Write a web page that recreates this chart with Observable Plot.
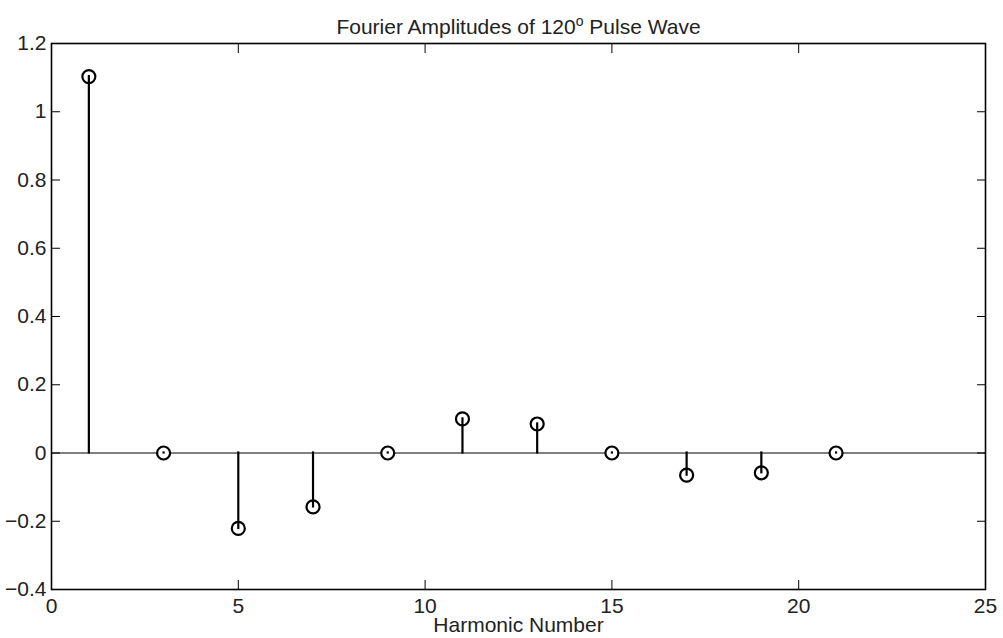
<!DOCTYPE html>
<html><head><meta charset="utf-8">
<script src="https://cdn.jsdelivr.net/npm/d3@7"></script>
<script src="https://cdn.jsdelivr.net/npm/@observablehq/plot@0.6"></script>
<style>body{margin:0;background:#fff}</style></head>
<body><div id="chart"></div>
<script>
const harmonics = [1, 3, 5, 7, 9, 11, 13, 15, 17, 19, 21];
const amplitudes = [1.103, 0, -0.221, -0.158, 0, 0.100, 0.085, 0, -0.065, -0.058, 0];
const xTicks = [0, 5, 10, 15, 20, 25];
const yTicks = [-0.4, -0.2, 0, 0.2, 0.4, 0.6, 0.8, 1, 1.2];
const titleParts = ["Fourier Amplitudes of 120", "o", " Pulse Wave"];
const xLabel = "Harmonic Number";

const data = harmonics.map((n, i) => ({n, a: amplitudes[i]}));
const fmt = d => (d < 0 ? "\u2212" : "") + String(Math.round(Math.abs(d) * 10) / 10);

const chart = Plot.plot({
  width: 1003,
  height: 638,
  marginLeft: 51,
  marginRight: 18,
  marginTop: 43,
  marginBottom: 49,
  style: {fontFamily: "'Liberation Sans', Arial, sans-serif", fontSize: "21px", background: "#fff", color: "#000"},
  x: {domain: [0, 25]},
  y: {domain: [-0.4, 1.2]},
  marks: [
    Plot.ruleY([0], {stroke: "#000", strokeWidth: 1}),
    Plot.dot(data, {x: "n", y: "a", r: 6.5, fill: "#fff", stroke: "none"}),
    Plot.ruleX(data, {x: "n", y1: 0, y2: "a", stroke: "#000", strokeWidth: 2.2, strokeLinecap: "square"}),
    Plot.dot(data, {x: "n", y: "a", r: 6.5, stroke: "#000", strokeWidth: 2.2, fill: "none"}),
    Plot.axisX({ticks: xTicks, tickSize: -9, tickPadding: 18, tickFormat: fmt, label: null, fontSize: 21, fill: "#222"}),
    Plot.axisX({anchor: "top", ticks: xTicks, tickSize: -9, tickFormat: () => "", label: null}),
    Plot.axisY({ticks: yTicks, tickSize: -9, tickPadding: 14, tickFormat: fmt, label: null, fontSize: 21, fill: "#222"}),
    Plot.axisY({anchor: "right", ticks: yTicks, tickSize: -9, tickFormat: () => "", label: null}),
    Plot.frame({stroke: "#000", strokeWidth: 1.6}),
    Plot.text([titleParts.join("")], {frameAnchor: "top", dy: -24, text: d => d, fontSize: 21, fill: "#222"}),
    Plot.text([xLabel], {frameAnchor: "bottom", dy: 42, text: d => d, fontSize: 21, fill: "#222"})
  ]
});
document.getElementById("chart").appendChild(chart);

// superscript "o" in the title
d3.select(chart).selectAll("text").filter(function () {
  return this.textContent === titleParts.join("");
}).each(function () {
  const t = d3.select(this);
  t.text(null);
  t.append("tspan").text(titleParts[0]);
  t.append("tspan").attr("dy", "-8").attr("font-size", "14").text(titleParts[1]);
  t.append("tspan").attr("dy", "8").text(titleParts[2]);
});
</script>
</body></html>
